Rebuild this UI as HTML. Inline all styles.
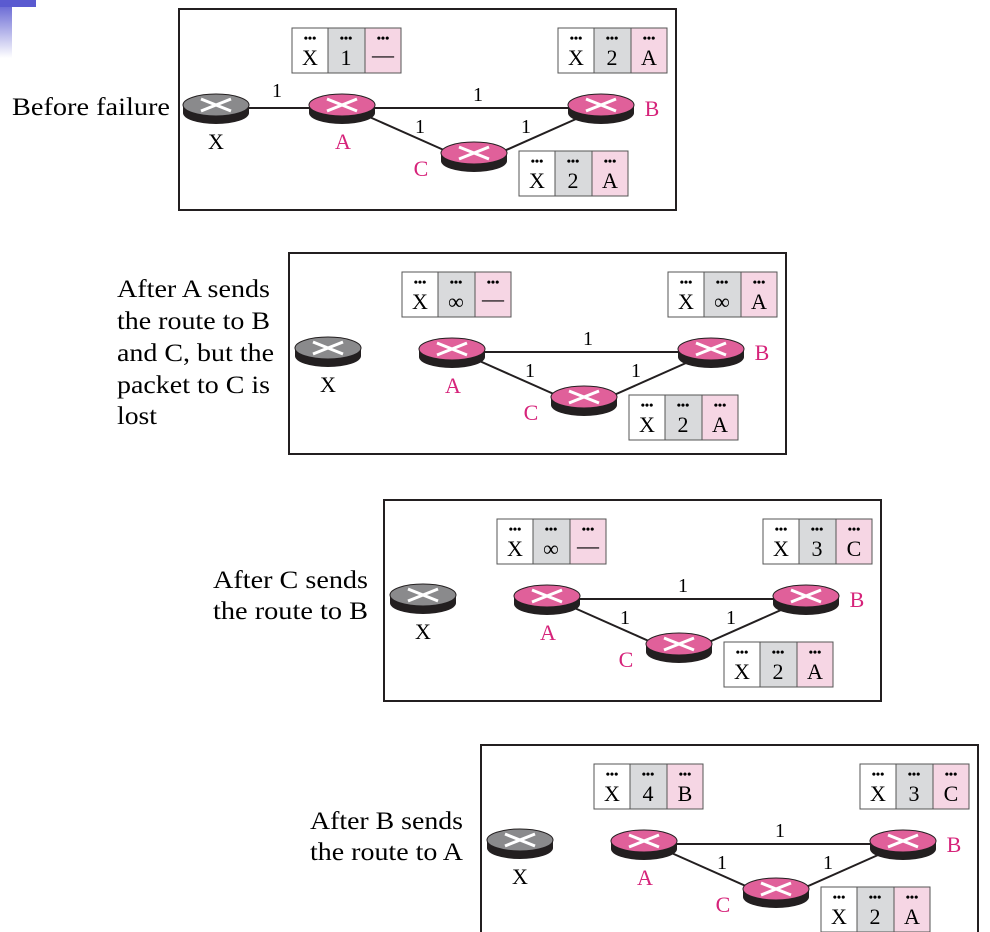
<!DOCTYPE html>
<html><head><meta charset="utf-8"><style>
html,body{margin:0;padding:0;background:#fff;font-family:"Liberation Serif","DejaVu Serif",serif;}
svg{display:block;font-family:"Liberation Serif","DejaVu Serif",serif;}
svg text, svg tspan{font-family:"Liberation Serif","DejaVu Serif",serif !important;}
</style></head><body>
<svg width="990" height="932" viewBox="0 0 990 932" xmlns="http://www.w3.org/2000/svg" font-family="Liberation Serif, DejaVu Serif, serif">
<defs>
<linearGradient id="gv" x1="0" y1="0" x2="0" y2="1"><stop offset="0" stop-color="#5a5ad0"/><stop offset="1" stop-color="#5a5ad0" stop-opacity="0"/></linearGradient>
<g id="rp">
 <ellipse cx="0" cy="4" rx="33" ry="11" fill="#231f20"/>
 <rect x="-33" y="-4" width="66" height="8" fill="#231f20"/>
 <ellipse cx="0" cy="-4" rx="33" ry="11" fill="#e0609a" stroke="#231f20" stroke-width="1"/>
 <path d="M-15 -10 L15 2 M-15 2 L15 -10" stroke="#fff" stroke-width="3"/>
</g>
<g id="rg">
 <ellipse cx="0" cy="4" rx="33" ry="11" fill="#231f20"/>
 <rect x="-33" y="-4" width="66" height="8" fill="#231f20"/>
 <ellipse cx="0" cy="-4" rx="33" ry="11" fill="#8a8a8c" stroke="#231f20" stroke-width="1"/>
 <path d="M-15 -10 L15 2 M-15 2 L15 -10" stroke="#fff" stroke-width="3"/>
</g>
<g id="cells">
 <rect x="0" y="0" width="36" height="45" fill="#fff" stroke="#555"/>
 <rect x="36" y="0" width="37" height="45" fill="#d9dadc" stroke="#555"/>
 <rect x="73" y="0" width="36" height="45" fill="#f6d6e4" stroke="#555"/>
 <text x="18" y="14" font-size="12" text-anchor="middle" font-weight="bold">•••</text>
 <text x="54" y="14" font-size="12" text-anchor="middle" font-weight="bold">•••</text>
 <text x="91" y="14" font-size="12" text-anchor="middle" font-weight="bold">•••</text>
 <text x="18" y="37" font-size="22" text-anchor="middle">X</text>
</g>
</defs>
<rect x="0" y="0" width="36" height="7" fill="#5a5ad0"/>
<rect x="0" y="0" width="12" height="58" fill="url(#gv)"/>

<!-- Panel 1 -->
<g>
 <rect x="179" y="9" width="497" height="201" fill="none" stroke="#231f20" stroke-width="2"/>
 <path d="M240 108 H320 M370 108 H580 M365 115 L455 155 M495 155 L585 115" stroke="#231f20" stroke-width="2" fill="none"/>
 <use href="#rg" x="216" y="109"/><use href="#rp" x="342" y="109"/><use href="#rp" x="601" y="109"/><use href="#rp" x="474" y="157"/>
 <text x="277" y="97" font-size="20" text-anchor="middle">1</text>
 <text x="478" y="101" font-size="20" text-anchor="middle">1</text>
 <text x="420" y="133" font-size="20" text-anchor="middle">1</text>
 <text x="526" y="133" font-size="20" text-anchor="middle">1</text>
 <text x="216" y="149" font-size="22" text-anchor="middle">X</text>
 <text x="343" y="149" font-size="22" text-anchor="middle" fill="#d6237a">A</text>
 <text x="652" y="116" font-size="22" text-anchor="middle" fill="#d6237a">B</text>
 <text x="421" y="176" font-size="22" text-anchor="middle" fill="#d6237a">C</text>
 <g transform="translate(292,28)"><use href="#cells"/><text x="54" y="37" font-size="22" text-anchor="middle">1</text><text x="91" y="34" font-size="22" text-anchor="middle">—</text></g>
 <g transform="translate(558,28)"><use href="#cells"/><text x="54" y="37" font-size="22" text-anchor="middle">2</text><text x="91" y="37" font-size="22" text-anchor="middle">A</text></g>
 <g transform="translate(519,151)"><use href="#cells"/><text x="54" y="37" font-size="22" text-anchor="middle">2</text><text x="91" y="37" font-size="22" text-anchor="middle">A</text></g>
 <text x="12" y="115" font-size="25" textLength="158" lengthAdjust="spacingAndGlyphs">Before failure</text>
</g>

<!-- Panel 2 -->
<g transform="translate(110,244)">
 <rect x="179" y="9" width="497" height="201" fill="none" stroke="#231f20" stroke-width="2"/>
 <path d="M370 108 H580 M365 115 L455 155 M495 155 L585 115" stroke="#231f20" stroke-width="2" fill="none"/>
 <use href="#rg" x="218" y="108"/><use href="#rp" x="342" y="109"/><use href="#rp" x="601" y="109"/><use href="#rp" x="474" y="157"/>
 <text x="478" y="101" font-size="20" text-anchor="middle">1</text>
 <text x="420" y="133" font-size="20" text-anchor="middle">1</text>
 <text x="526" y="133" font-size="20" text-anchor="middle">1</text>
 <text x="218" y="148" font-size="22" text-anchor="middle">X</text>
 <text x="343" y="149" font-size="22" text-anchor="middle" fill="#d6237a">A</text>
 <text x="652" y="116" font-size="22" text-anchor="middle" fill="#d6237a">B</text>
 <text x="421" y="176" font-size="22" text-anchor="middle" fill="#d6237a">C</text>
 <g transform="translate(292,28)"><use href="#cells"/><text x="54" y="37" font-size="22" text-anchor="middle">∞</text><text x="91" y="34" font-size="22" text-anchor="middle">—</text></g>
 <g transform="translate(558,28)"><use href="#cells"/><text x="54" y="37" font-size="22" text-anchor="middle">∞</text><text x="91" y="37" font-size="22" text-anchor="middle">A</text></g>
 <g transform="translate(519,151)"><use href="#cells"/><text x="54" y="37" font-size="22" text-anchor="middle">2</text><text x="91" y="37" font-size="22" text-anchor="middle">A</text></g>
</g>
<g font-size="25">
<text x="117" y="297" textLength="153" lengthAdjust="spacingAndGlyphs">After A sends</text>
<text x="117" y="329" textLength="153" lengthAdjust="spacingAndGlyphs">the route to B</text>
<text x="117" y="361" textLength="157" lengthAdjust="spacingAndGlyphs">and C, but the</text>
<text x="117" y="393" textLength="153" lengthAdjust="spacingAndGlyphs">packet to C is</text>
<text x="117" y="424" textLength="40" lengthAdjust="spacingAndGlyphs">lost</text>
</g>

<!-- Panel 3 -->
<g transform="translate(205,491)">
 <rect x="179" y="9" width="497" height="201" fill="none" stroke="#231f20" stroke-width="2"/>
 <path d="M370 108 H580 M365 115 L455 155 M495 155 L585 115" stroke="#231f20" stroke-width="2" fill="none"/>
 <use href="#rg" x="218" y="108"/><use href="#rp" x="342" y="109"/><use href="#rp" x="601" y="109"/><use href="#rp" x="474" y="157"/>
 <text x="478" y="101" font-size="20" text-anchor="middle">1</text>
 <text x="420" y="133" font-size="20" text-anchor="middle">1</text>
 <text x="526" y="133" font-size="20" text-anchor="middle">1</text>
 <text x="218" y="148" font-size="22" text-anchor="middle">X</text>
 <text x="343" y="149" font-size="22" text-anchor="middle" fill="#d6237a">A</text>
 <text x="652" y="116" font-size="22" text-anchor="middle" fill="#d6237a">B</text>
 <text x="421" y="176" font-size="22" text-anchor="middle" fill="#d6237a">C</text>
 <g transform="translate(292,28)"><use href="#cells"/><text x="54" y="37" font-size="22" text-anchor="middle">∞</text><text x="91" y="34" font-size="22" text-anchor="middle">—</text></g>
 <g transform="translate(558,28)"><use href="#cells"/><text x="54" y="37" font-size="22" text-anchor="middle">3</text><text x="91" y="37" font-size="22" text-anchor="middle">C</text></g>
 <g transform="translate(519,151)"><use href="#cells"/><text x="54" y="37" font-size="22" text-anchor="middle">2</text><text x="91" y="37" font-size="22" text-anchor="middle">A</text></g>
</g>
<g font-size="25">
<text x="213" y="588" textLength="155" lengthAdjust="spacingAndGlyphs">After C sends</text>
<text x="213" y="619" textLength="155" lengthAdjust="spacingAndGlyphs">the route to B</text>
</g>

<!-- Panel 4 -->
<g transform="translate(302,736)">
 <rect x="179" y="9" width="497" height="201" fill="none" stroke="#231f20" stroke-width="2"/>
 <path d="M370 108 H580 M365 115 L455 155 M495 155 L585 115" stroke="#231f20" stroke-width="2" fill="none"/>
 <use href="#rg" x="218" y="108"/><use href="#rp" x="342" y="109"/><use href="#rp" x="601" y="109"/><use href="#rp" x="474" y="157"/>
 <text x="478" y="101" font-size="20" text-anchor="middle">1</text>
 <text x="420" y="133" font-size="20" text-anchor="middle">1</text>
 <text x="526" y="133" font-size="20" text-anchor="middle">1</text>
 <text x="218" y="148" font-size="22" text-anchor="middle">X</text>
 <text x="343" y="149" font-size="22" text-anchor="middle" fill="#d6237a">A</text>
 <text x="652" y="116" font-size="22" text-anchor="middle" fill="#d6237a">B</text>
 <text x="421" y="176" font-size="22" text-anchor="middle" fill="#d6237a">C</text>
 <g transform="translate(292,28)"><use href="#cells"/><text x="54" y="37" font-size="22" text-anchor="middle">4</text><text x="91" y="37" font-size="22" text-anchor="middle">B</text></g>
 <g transform="translate(558,28)"><use href="#cells"/><text x="54" y="37" font-size="22" text-anchor="middle">3</text><text x="91" y="37" font-size="22" text-anchor="middle">C</text></g>
 <g transform="translate(519,151)"><use href="#cells"/><text x="54" y="37" font-size="22" text-anchor="middle">2</text><text x="91" y="37" font-size="22" text-anchor="middle">A</text></g>
</g>
<g font-size="25">
<text x="310" y="829" textLength="153" lengthAdjust="spacingAndGlyphs">After B sends</text>
<text x="310" y="860" textLength="153" lengthAdjust="spacingAndGlyphs">the route to A</text>
</g>
</svg>
</body></html>
